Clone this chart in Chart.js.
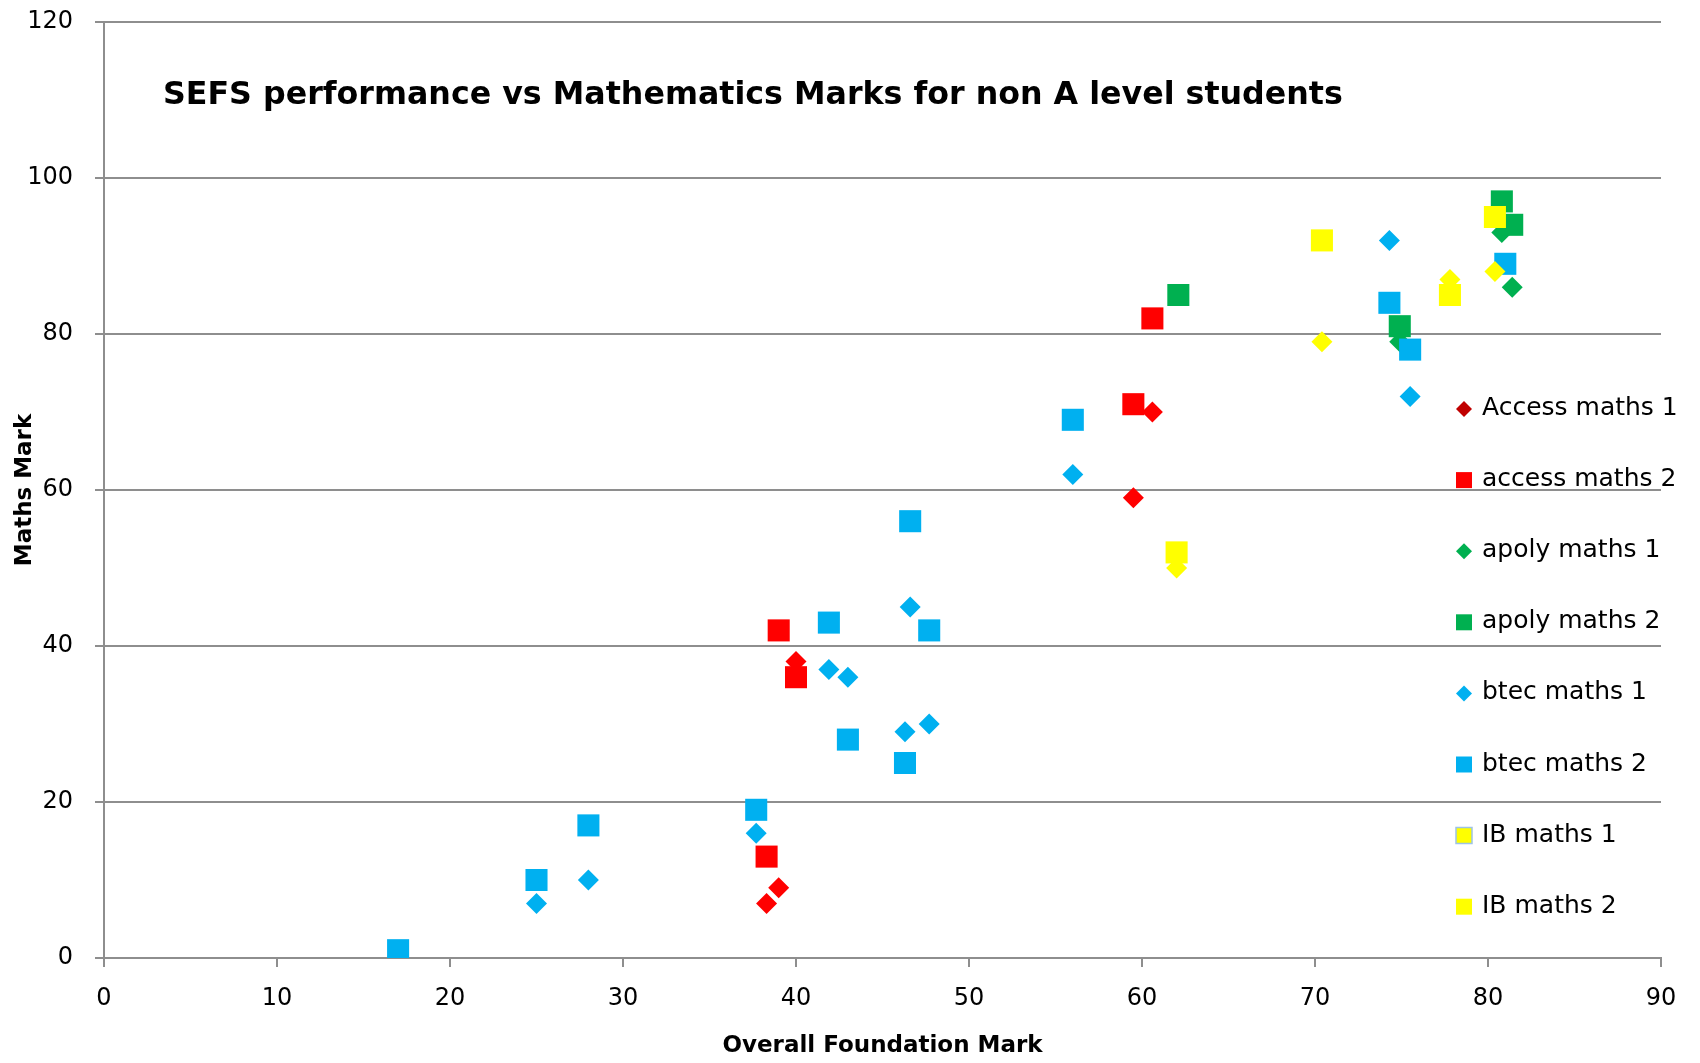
<!DOCTYPE html>
<html>
<head>
<meta charset="utf-8">
<title>SEFS performance vs Mathematics Marks</title>
<script src="https://cdn.jsdelivr.net/npm/chart.js@4/dist/chart.umd.min.js"></script>
<style>
  html, body { margin: 0; padding: 0; background: #fff; }
  #wrap { width: 1700px; height: 1063px; }
</style>
</head>
<body>
<div id="wrap"><canvas id="chart-sefs" width="1700" height="1063"></canvas></div>
<script>
/* =====================
   DATA
===================== */

const seriesNames = ['Access maths 1', 'access maths 2', 'apoly maths 1', 'apoly maths 2',
                     'btec maths 1', 'btec maths 2', 'IB maths 1', 'IB maths 2'];

const accessX      = [40, 39, 38.3, 60.6, 59.5];
const accessMaths1 = [38, 9, 7, 70, 59];
const accessMaths2 = [36, 42, 13, 82, 71];

const apoly1X     = [80.8, 81.4, 74.9];
const apolyMaths1 = [93, 86, 79];
const apoly2X     = [80.8, 81.4, 74.9, 62.1];
const apolyMaths2 = [97, 94, 81, 85];

const btec1X     = [74.3, 75.5, 56.0, 46.6, 41.9, 43.0, 46.3, 47.7, 37.7, 28.0, 25.0];
const btecMaths1 = [92, 72, 62, 45, 37, 36, 29, 30, 16, 10, 7];
const btec2X     = [74.3, 75.5, 81.0, 56.0, 46.6, 41.9, 47.7, 43.0, 46.3, 37.7, 28.0, 25.0, 17.0];
const btecMaths2 = [84, 78, 89, 69, 56, 43, 42, 28, 25, 19, 17, 10, 1];

const ibX     = [70.4, 77.8, 80.4, 62.0];
const ibMaths1 = [79, 87, 88, 50];
const ibMaths2 = [92, 85, 95, 52];

const xTicks = [0, 10, 20, 30, 40, 50, 60, 70, 80, 90];
const yTicks = [0, 20, 40, 60, 80, 100, 120];

const chartTitle = 'SEFS performance vs Mathematics Marks for non A level students';


/* =====================
   STYLE
===================== */

const RED = '#FF0000', DARKRED = '#C00000', GREEN = '#00B050', BLUE = '#00B0F0', YELLOW = '#FFFF00';
const GRID = '#8e8e8e';
const FONT = "'DejaVu Sans', sans-serif";

function pairs(xs, ys) {
    return xs.map((x, i) => ({ x: x, y: ys[i] }));
}

function diamonds(label, data, color) {
    return { label, data, pointStyle: 'rectRot', pointRadius: 10.5, pointHoverRadius: 10.5,
             backgroundColor: color, borderWidth: 0, pointBorderWidth: 0 };
}

function squares(label, data, color) {
    return { label, data, pointStyle: 'rect', pointRadius: 15.6, pointHoverRadius: 15.6,
             backgroundColor: color, borderWidth: 0, pointBorderWidth: 0 };
}

const datasets = [
    diamonds(seriesNames[0], pairs(accessX, accessMaths1), RED),
    squares(seriesNames[1], pairs(accessX, accessMaths2), RED),
    diamonds(seriesNames[2], pairs(apoly1X, apolyMaths1), GREEN),
    squares(seriesNames[3], pairs(apoly2X, apolyMaths2), GREEN),
    diamonds(seriesNames[4], pairs(btec1X, btecMaths1), BLUE),
    squares(seriesNames[5], pairs(btec2X, btecMaths2), BLUE),
    diamonds(seriesNames[6], pairs(ibX, ibMaths1), YELLOW),
    squares(seriesNames[7], pairs(ibX, ibMaths2), YELLOW)
];

// later series sit on top, like the spreadsheet does it
datasets.forEach((d, i) => { d.order = -i; });

// legend swatches (Access maths 1 is darker in the key than in the plot)
const keyColors = [DARKRED, RED, GREEN, GREEN, BLUE, BLUE, YELLOW, YELLOW];


/* =====================
   PLUGINS
===================== */

const innerTitle = {
    id: 'innerTitle',
    afterDraw(chart) {
        const ctx = chart.ctx;
        ctx.save();
        ctx.font = "bold 31.7px " + FONT;
        ctx.fillStyle = '#000';
        ctx.textBaseline = 'alphabetic';
        ctx.textAlign = 'left';
        ctx.fillText(chartTitle, 163, 104);
        ctx.restore();
    }
};

const sideKey = {
    id: 'sideKey',
    afterDraw(chart) {
        const ctx = chart.ctx;
        ctx.save();
        ctx.font = "25px " + FONT;
        ctx.textBaseline = 'alphabetic';
        ctx.textAlign = 'left';

        chart.data.datasets.forEach((d, i) => {
            const base = 415 + i * 71.1;
            const mx = 1464, my = base - 6;

            ctx.fillStyle = keyColors[i];
            ctx.beginPath();
            if (d.pointStyle === 'rectRot') {
                ctx.moveTo(mx - 8, my);
                ctx.lineTo(mx, my - 8);
                ctx.lineTo(mx + 8, my);
                ctx.lineTo(mx, my + 8);
                ctx.closePath();
                ctx.fill();
            } else {
                ctx.rect(mx - 8, my - 8, 16, 16);
                ctx.fill();
            }

            // IB maths 1 gets a plain square with a pale blue edge in the key
            if (i === 6) {
                ctx.beginPath();
                ctx.rect(mx - 8, my - 8, 16, 16);
                ctx.fill();
                ctx.strokeStyle = '#9dc3e6';
                ctx.lineWidth = 1.5;
                ctx.stroke();
            }

            ctx.fillStyle = '#000';
            ctx.fillText(d.label, 1482, base);
        });
        ctx.restore();
    }
};


/* =====================
   CREATE CHART
===================== */

const ctx = document.getElementById('chart-sefs').getContext('2d');

const chartS = new Chart(ctx, {
    type: 'scatter',
    data: { datasets: datasets },
    options: {
        responsive: false,
        animation: false,
        devicePixelRatio: 1,
        layout: { padding: { top: 22, right: 39, bottom: 0, left: 0 } },
        plugins: {
            legend: { display: false },
            title: { display: false },
            tooltip: { enabled: false }
        },
        scales: {
            x: {
                type: 'linear',
                min: 0,
                max: 90,
                afterBuildTicks: (scale) => { scale.ticks = xTicks.map(v => ({ value: v })); },
                afterFit: (scale) => { scale.height = 105; },
                ticks: { color: '#000', font: { family: FONT, size: 24 }, padding: 17 },
                grid: { display: true, drawOnChartArea: false, drawTicks: true, tickLength: 9,
                        color: GRID, lineWidth: 2 },
                border: { display: true, color: GRID, width: 2 },
                title: { display: true, text: 'Overall Foundation Mark', color: '#000',
                         font: { family: FONT, size: 23, weight: 'bold' },
                         padding: { top: 0, bottom: 3 } }
            },
            y: {
                type: 'linear',
                min: 0,
                max: 120,
                afterBuildTicks: (scale) => { scale.ticks = yTicks.map(v => ({ value: v })); },
                afterFit: (scale) => {
                    scale.width = 104;
                    // the label padding should not push the plot down
                    scale.paddingTop = 0;
                    scale.paddingBottom = 0;
                },
                ticks: { color: '#000', font: { family: FONT, size: 24 }, padding: 22 },
                grid: { display: true, drawTicks: true, tickLength: 9, color: GRID, lineWidth: 2 },
                border: { display: true, color: GRID, width: 2 },
                title: { display: true, text: 'Maths Mark', color: '#000',
                         font: { family: FONT, size: 23, weight: 'bold' },
                         padding: { top: 11, bottom: 0 } }
            }
        }
    },
    plugins: [innerTitle, sideKey]
});
</script>
</body>
</html>
